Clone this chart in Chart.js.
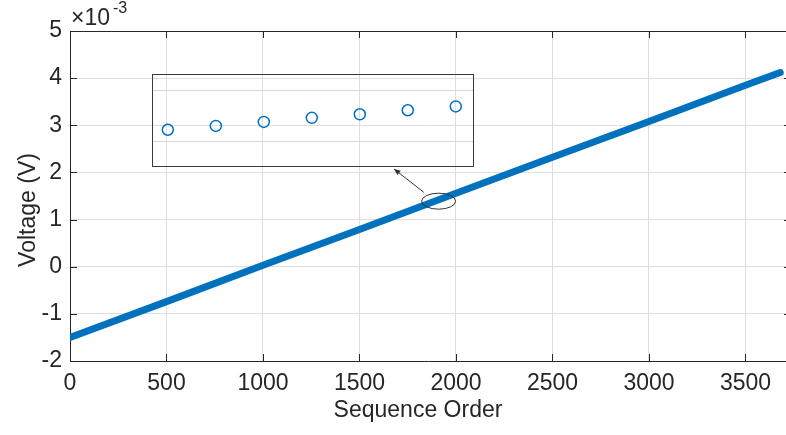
<!DOCTYPE html>
<html>
<head>
<meta charset="utf-8">
<script src="https://cdn.jsdelivr.net/npm/chart.js@4"></script>
<style>
  html, body { margin: 0; padding: 0; background: #fff; }
  #wrap { position: relative; width: 786px; height: 435px; }
  #mainChart { position: absolute; left: 0; top: 0; }
  #zoomChart { position: absolute; left: 152px; top: 74px; }
</style>
</head>
<body>
<div id="wrap">
  <canvas id="mainChart" width="786" height="435"></canvas>
  <canvas id="zoomChart" width="322" height="93"></canvas>
</div>
<script>
// data (voltage in units of 10^-3 V)
const seqOrder = [0, 500, 1000, 1500, 2000, 2500, 3000, 3500, 3680];
const voltage = [-1.50, -0.74, 0.03, 0.79, 1.56, 2.32, 3.08, 3.85, 4.12];
const xTicks = [0, 500, 1000, 1500, 2000, 2500, 3000, 3500];
const yTicks = [-2, -1, 0, 1, 2, 3, 4, 5];

// zoomed samples shown in the inset
const zoomOrder = [1909, 1910, 1911, 1912, 1913, 1914, 1915];
const zoomVoltage = [1.4247, 1.4262, 1.4278, 1.4294, 1.4308, 1.4324, 1.4339];
const zoomGrid = [1.42, 1.44];

const FONT = "'Liberation Sans', Arial, sans-serif";
const INK = "#262626";
const BLUE = "#0072BD";

Chart.defaults.font.family = FONT;
Chart.defaults.color = INK;


// ------------------------------
// axis decorations (inner ticks, box, titles, exponent, callout)
// ------------------------------

const matlabAxes = {
    id: "matlabAxes",
    afterDraw(chart) {
        const ctx = chart.ctx;
        const a = chart.chartArea;
        const xs = chart.scales.x;
        const ys = chart.scales.y;

        ctx.save();
        ctx.strokeStyle = INK;
        ctx.lineWidth = 1;

        // top box line
        ctx.beginPath();
        ctx.moveTo(a.left, a.top + 0.5);
        ctx.lineTo(a.right, a.top + 0.5);
        ctx.stroke();

        // inner ticks
        ctx.beginPath();
        xTicks.forEach(v => {
            const px = Math.round(xs.getPixelForValue(v)) + 0.5;
            ctx.moveTo(px, a.bottom);
            ctx.lineTo(px, a.bottom - 7);
            ctx.moveTo(px, a.top);
            ctx.lineTo(px, a.top + 7);
        });
        yTicks.forEach(v => {
            const py = Math.round(ys.getPixelForValue(v)) + 0.5;
            ctx.moveTo(a.left, py);
            ctx.lineTo(a.left + 7, py);
            ctx.moveTo(a.right, py);
            ctx.lineTo(a.right - 2, py);
        });
        ctx.stroke();

        // callout ellipse and arrow
        const cx = xs.getPixelForValue(1910);
        const cy = ys.getPixelForValue(1.39);
        ctx.strokeStyle = "#333";
        ctx.beginPath();
        ctx.ellipse(cx, cy, 17, 8, 0, 0, Math.PI * 2);
        ctx.stroke();

        const tx = cx - 15, ty = cy - 9;
        const hx = 394, hy = 169;
        ctx.beginPath();
        ctx.moveTo(tx, ty);
        ctx.lineTo(hx, hy);
        ctx.stroke();
        const ang = Math.atan2(hy - ty, hx - tx);
        ctx.fillStyle = "#333";
        ctx.beginPath();
        ctx.moveTo(hx, hy);
        ctx.lineTo(hx - 7 * Math.cos(ang - 0.4), hy - 7 * Math.sin(ang - 0.4));
        ctx.lineTo(hx - 7 * Math.cos(ang + 0.4), hy - 7 * Math.sin(ang + 0.4));
        ctx.closePath();
        ctx.fill();

        // axis titles
        ctx.fillStyle = INK;
        ctx.font = "23px " + FONT;
        ctx.textAlign = "center";
        ctx.textBaseline = "middle";
        ctx.fillText("Sequence Order", 418, 411);

        ctx.save();
        ctx.translate(29, 210);
        ctx.rotate(-Math.PI / 2);
        ctx.fillText("Voltage (V)", 0, 0);
        ctx.restore();

        // exponent label
        ctx.textAlign = "left";
        ctx.textBaseline = "alphabetic";
        ctx.font = "23px " + FONT;
        ctx.fillText("\u00d710", 71, 25);
        ctx.font = "16px " + FONT;
        ctx.fillText("-3", 113, 13);

        ctx.restore();
    }
};


// ------------------------------
// Main line chart
// ------------------------------

const mainChart = new Chart(document.getElementById("mainChart"), {

    type: "line",

    data: {
        datasets: [{
            data: seqOrder.map((x, i) => ({ x: x, y: voltage[i] })),
            borderColor: BLUE,
            borderWidth: 7,
            borderCapStyle: "round",
            pointRadius: 0,
            tension: 0,
            fill: false
        }]
    },

    options: {
        responsive: false,
        animation: false,
        devicePixelRatio: 1,
        layout: {
            autoPadding: false,
            padding: { top: 31, left: 0, right: 0, bottom: 0 }
        },
        plugins: {
            legend: { display: false },
            tooltip: { enabled: false }
        },
        scales: {
            x: {
                type: "linear",
                min: 0,
                max: 3710,
                afterBuildTicks: s => { s.ticks = xTicks.map(v => ({ value: v })); },
                afterFit: s => { s.height = 74; },
                ticks: {
                    callback: v => String(v),
                    font: { size: 23 },
                    color: INK,
                    padding: 9,
                    maxRotation: 0
                },
                grid: { color: "#dedede", drawTicks: false },
                border: { color: INK, width: 1 }
            },
            y: {
                min: -2,
                max: 5,
                afterBuildTicks: s => { s.ticks = yTicks.map(v => ({ value: v })); },
                afterFit: s => { s.width = 70; },
                ticks: {
                    callback: v => String(v),
                    font: { size: 23 },
                    color: INK,
                    padding: 8
                },
                grid: { color: "#dedede", drawTicks: false },
                border: { color: INK, width: 1 }
            }
        }
    },

    plugins: [matlabAxes]

});


// ------------------------------
// Zoom inset (open circles)
// ------------------------------

const insetBox = {
    id: "insetBox",
    afterDraw(chart) {
        const ctx = chart.ctx;
        ctx.save();
        ctx.strokeStyle = "#3a3a3a";
        ctx.lineWidth = 1;
        ctx.strokeRect(0.5, 0.5, chart.width - 1, chart.height - 1);
        ctx.restore();
    }
};

const zoomChart = new Chart(document.getElementById("zoomChart"), {

    type: "line",

    data: {
        datasets: [{
            data: zoomOrder.map((x, i) => ({ x: x, y: zoomVoltage[i] })),
            showLine: false,
            pointStyle: "circle",
            pointRadius: 5.5,
            pointBorderWidth: 1.5,
            pointBorderColor: BLUE,
            pointBackgroundColor: "rgba(0,0,0,0)",
            clip: false
        }]
    },

    options: {
        responsive: false,
        animation: false,
        devicePixelRatio: 1,
        layout: { autoPadding: false, padding: 0 },
        plugins: {
            legend: { display: false },
            tooltip: { enabled: false }
        },
        scales: {
            x: {
                type: "linear",
                min: 1908.67,
                max: 1915.38,
                display: false
            },
            y: {
                min: 1.41,
                max: 1.4467,
                afterBuildTicks: s => { s.ticks = zoomGrid.map(v => ({ value: v })); },
                afterFit: s => { s.width = 0; },
                ticks: { display: false },
                grid: { color: "#d8d8d8", drawTicks: false },
                border: { display: false }
            }
        }
    },

    plugins: [insetBox]

});
</script>
</body>
</html>
